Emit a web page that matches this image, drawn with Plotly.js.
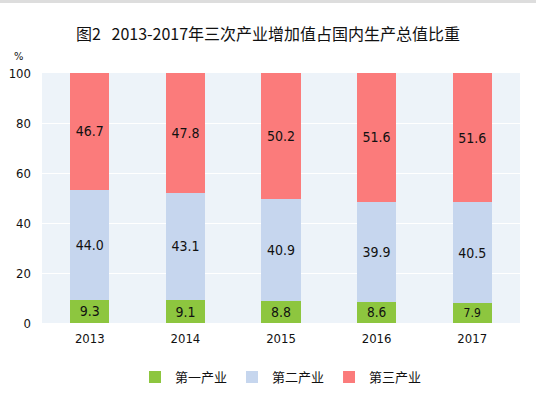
<!DOCTYPE html>
<html><head><meta charset="utf-8">
<script src="https://cdn.plot.ly/plotly-3.0.1.min.js"></script>
<style>html,body{margin:0;padding:0;background:#fff;}#chart{width:536px;height:399px;}</style>
</head><body><div id="chart"></div>
<script>
const years = ['2013','2014','2015','2016','2017'];
const primary = [9.3, 9.1, 8.8, 8.6, 7.9];
const secondary = [44.0, 43.1, 40.9, 39.9, 40.5];
const tertiary = [46.7, 47.8, 50.2, 51.6, 51.6];
const names = ['第一产业','第二产业','第三产业'];
const colors = ['#8dc63f','#c6d6ee','#fb7b7b'];
const FONT = '"DejaVu Sans Condensed", "Liberation Sans Narrow", "Liberation Sans", "Noto Sans CJK SC", sans-serif';
const series = [primary, secondary, tertiary];
const traces = series.map((vals, i) => ({
  type: 'bar', x: years, y: vals, name: names[i],
  marker: {color: colors[i]},
  text: vals.map(v => v.toFixed(1)), textposition: 'inside', insidetextanchor: 'middle',
  textfont: {color: '#111', size: 14, family: FONT}, hoverinfo: 'none', width: 0.41
}));
const layout = {
  width: 536, height: 399, barmode: 'stack',
  paper_bgcolor: '#ffffff', plot_bgcolor: '#edf3f9',
  margin: {l: 42, r: 16, t: 73, b: 76},
  font: {family: FONT, color: '#111', size: 13},
  title: {text: '图2   2013-2017年三次产业增加值占国内生产总值比重', x: 0.5, xanchor: 'center', y: 0.915, yanchor: 'middle',
          font: {family: '"Noto Sans CJK SC", sans-serif', size: 16, color: '#111'}},
  xaxis: {type: 'category', tickfont: {size: 13, family: FONT}, showgrid: false, zeroline: false, ticks: '', showline: false, ticklabelstandoff: 6},
  yaxis: {range: [0, 100], tickvals: [0,20,40,60,80,100], tickfont: {size: 13, family: FONT},
          gridcolor: '#ffffff', gridwidth: 1, zeroline: false, showline: false, ticks: '', ticklabelstandoff: 10},
  legend: {orientation: 'h', x: 0.5, xanchor: 'center', yref: 'container', y: 0.055, yanchor: 'middle',
           font: {size: 13, family: '"Noto Sans CJK SC", sans-serif'}, traceorder: 'normal', itemwidth: 30},
  annotations: [{text: '%', xref: 'paper', yref: 'paper', x: -0.05, y: 1.1, showarrow: false,
                 xanchor: 'center', font: {size: 11, family: FONT}}],
  shapes: [{type: 'rect', xref: 'paper', yref: 'paper', x0: -0.1, x1: 1.05, y0: 1.28, y1: 1.3, fillcolor: '#dddddd', line: {width: 0}, layer: 'below'}]
};
Plotly.newPlot('chart', traces, layout, {displayModeBar: false, staticPlot: true});
</script></body></html>
